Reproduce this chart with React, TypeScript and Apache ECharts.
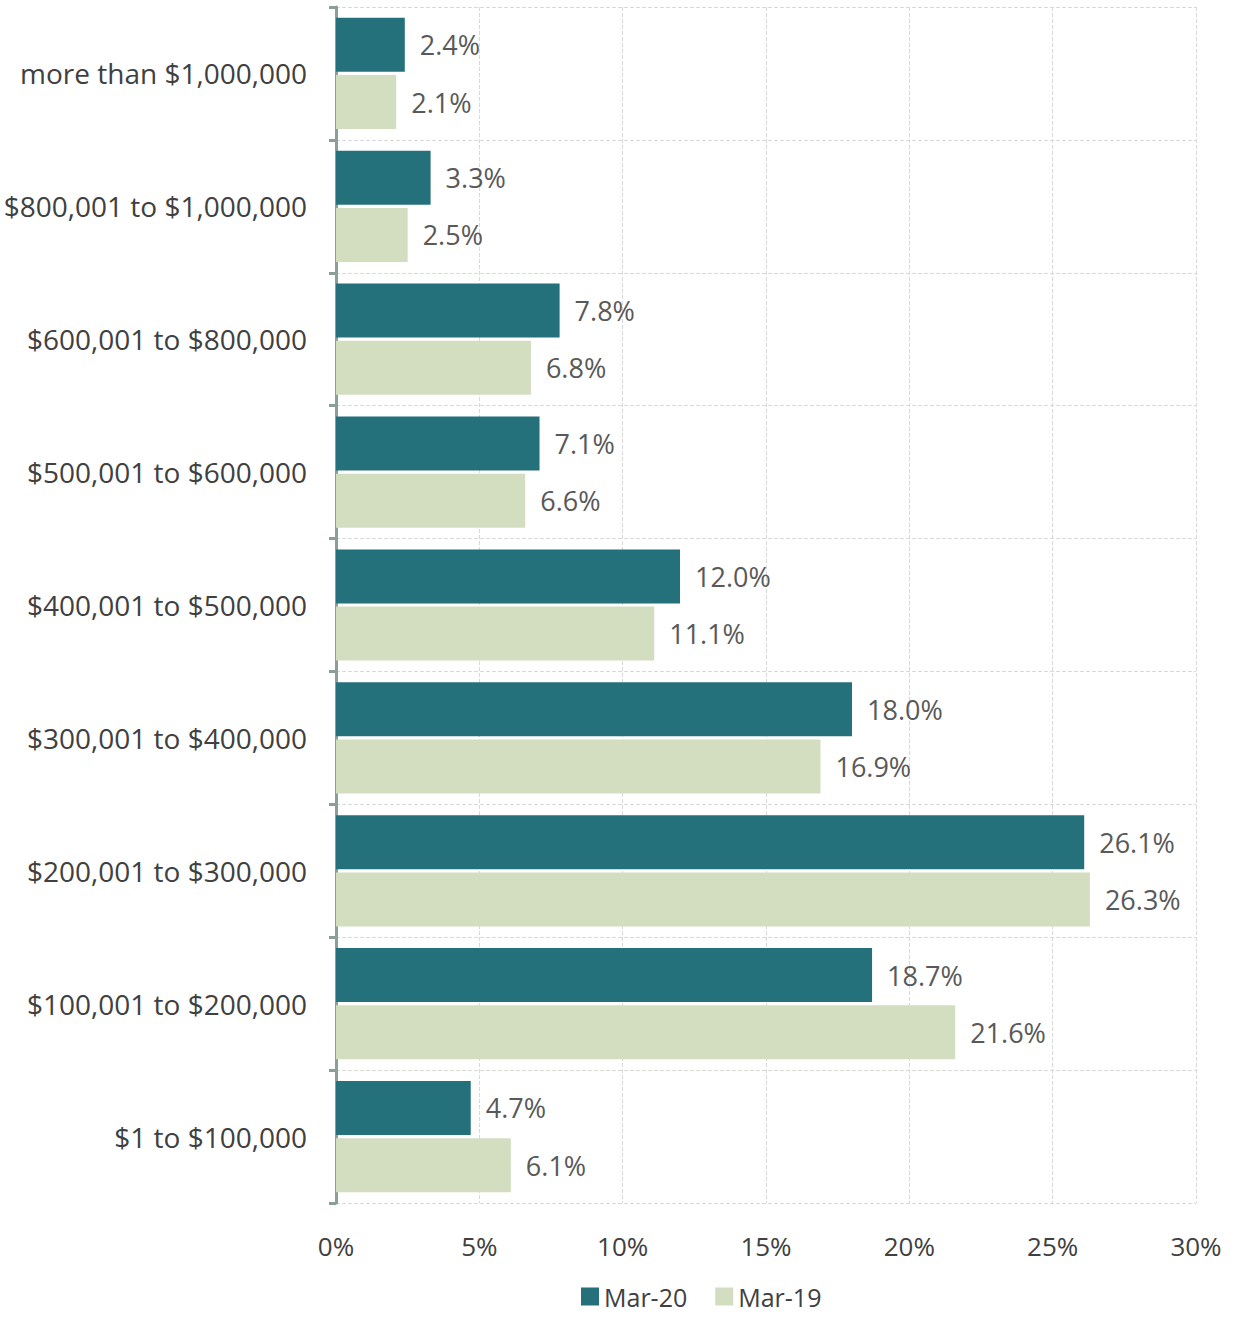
import React, { useEffect, useRef } from "react";
import * as echarts from "echarts";

const categories = [
  "more than $1,000,000",
  "$800,001 to $1,000,000",
  "$600,001 to $800,000",
  "$500,001 to $600,000",
  "$400,001 to $500,000",
  "$300,001 to $400,000",
  "$200,001 to $300,000",
  "$100,001 to $200,000",
  "$1 to $100,000",
];
const mar20 = [2.4, 3.3, 7.8, 7.1, 12.0, 18.0, 26.1, 18.7, 4.7];
const mar19 = [2.1, 2.5, 6.8, 6.6, 11.1, 16.9, 26.3, 21.6, 6.1];
const seriesNames = ["Mar-20", "Mar-19"];
const xTicks = [0, 5, 10, 15, 20, 25, 30];

const FONT = "'Open Sans', 'Noto Sans', sans-serif";

export default function App() {
  const ref = useRef<HTMLDivElement>(null);
  useEffect(() => {
    if (!ref.current) return;
    const chart = echarts.init(ref.current, undefined, { renderer: "svg" });
    const label = {
      show: true,
      position: "right",
      distance: 15,
      color: "#595959",
      fontSize: 27,
      fontFamily: FONT,
      formatter: (p: any) => p.value.toFixed(1) + "%",
    };
    chart.setOption({
      animation: false,
      backgroundColor: "#ffffff",
      textStyle: { fontFamily: FONT },
      grid: { left: 336, right: 43, top: 7, bottom: 116, containLabel: false },
      legend: {
        data: seriesNames,
        left: 576,
        top: 1279,
        itemWidth: 18,
        itemHeight: 18,
        itemGap: 28,
        icon: "rect",
        textStyle: { fontSize: 25, color: "#404040", fontFamily: FONT },
      },
      xAxis: {
        type: "value",
        min: xTicks[0],
        max: xTicks[xTicks.length - 1],
        interval: 5,
        axisLine: { show: false },
        axisTick: { show: false },
        axisLabel: {
          formatter: (v: number) => v + "%",
          fontSize: 26,
          color: "#404040",
          margin: 30,
          fontFamily: FONT,
        },
        splitLine: { show: true, lineStyle: { color: "#d9d9d9", type: "dashed", width: 1 } },
      },
      yAxis: {
        type: "category",
        data: categories,
        inverse: true,
        offset: 3,
        axisLine: { show: true, lineStyle: { color: "#8a9f95", width: 3 } },
        axisTick: { show: true, length: 7, lineStyle: { color: "#8a9f95", width: 3 } },
        axisLabel: { fontSize: 28, color: "#404040", margin: 26, fontFamily: FONT },
        splitLine: { show: true, lineStyle: { color: "#d9d9d9", type: "dashed", width: 1 } },
      },
      series: [
        {
          name: seriesNames[0],
          type: "bar",
          data: mar20,
          barWidth: 54,
          barGap: "6%",
          itemStyle: { color: "#24707b" },
          label,
        },
        {
          name: seriesNames[1],
          type: "bar",
          data: mar19,
          barWidth: 54,
          itemStyle: { color: "#d3ddc0" },
          label,
        },
      ],
    });
    return () => chart.dispose();
  }, []);
  return (
    <div
      ref={ref}
      style={{ position: "absolute", left: 0, top: 0, width: 1239, height: 1319 }}
    />
  );
}
